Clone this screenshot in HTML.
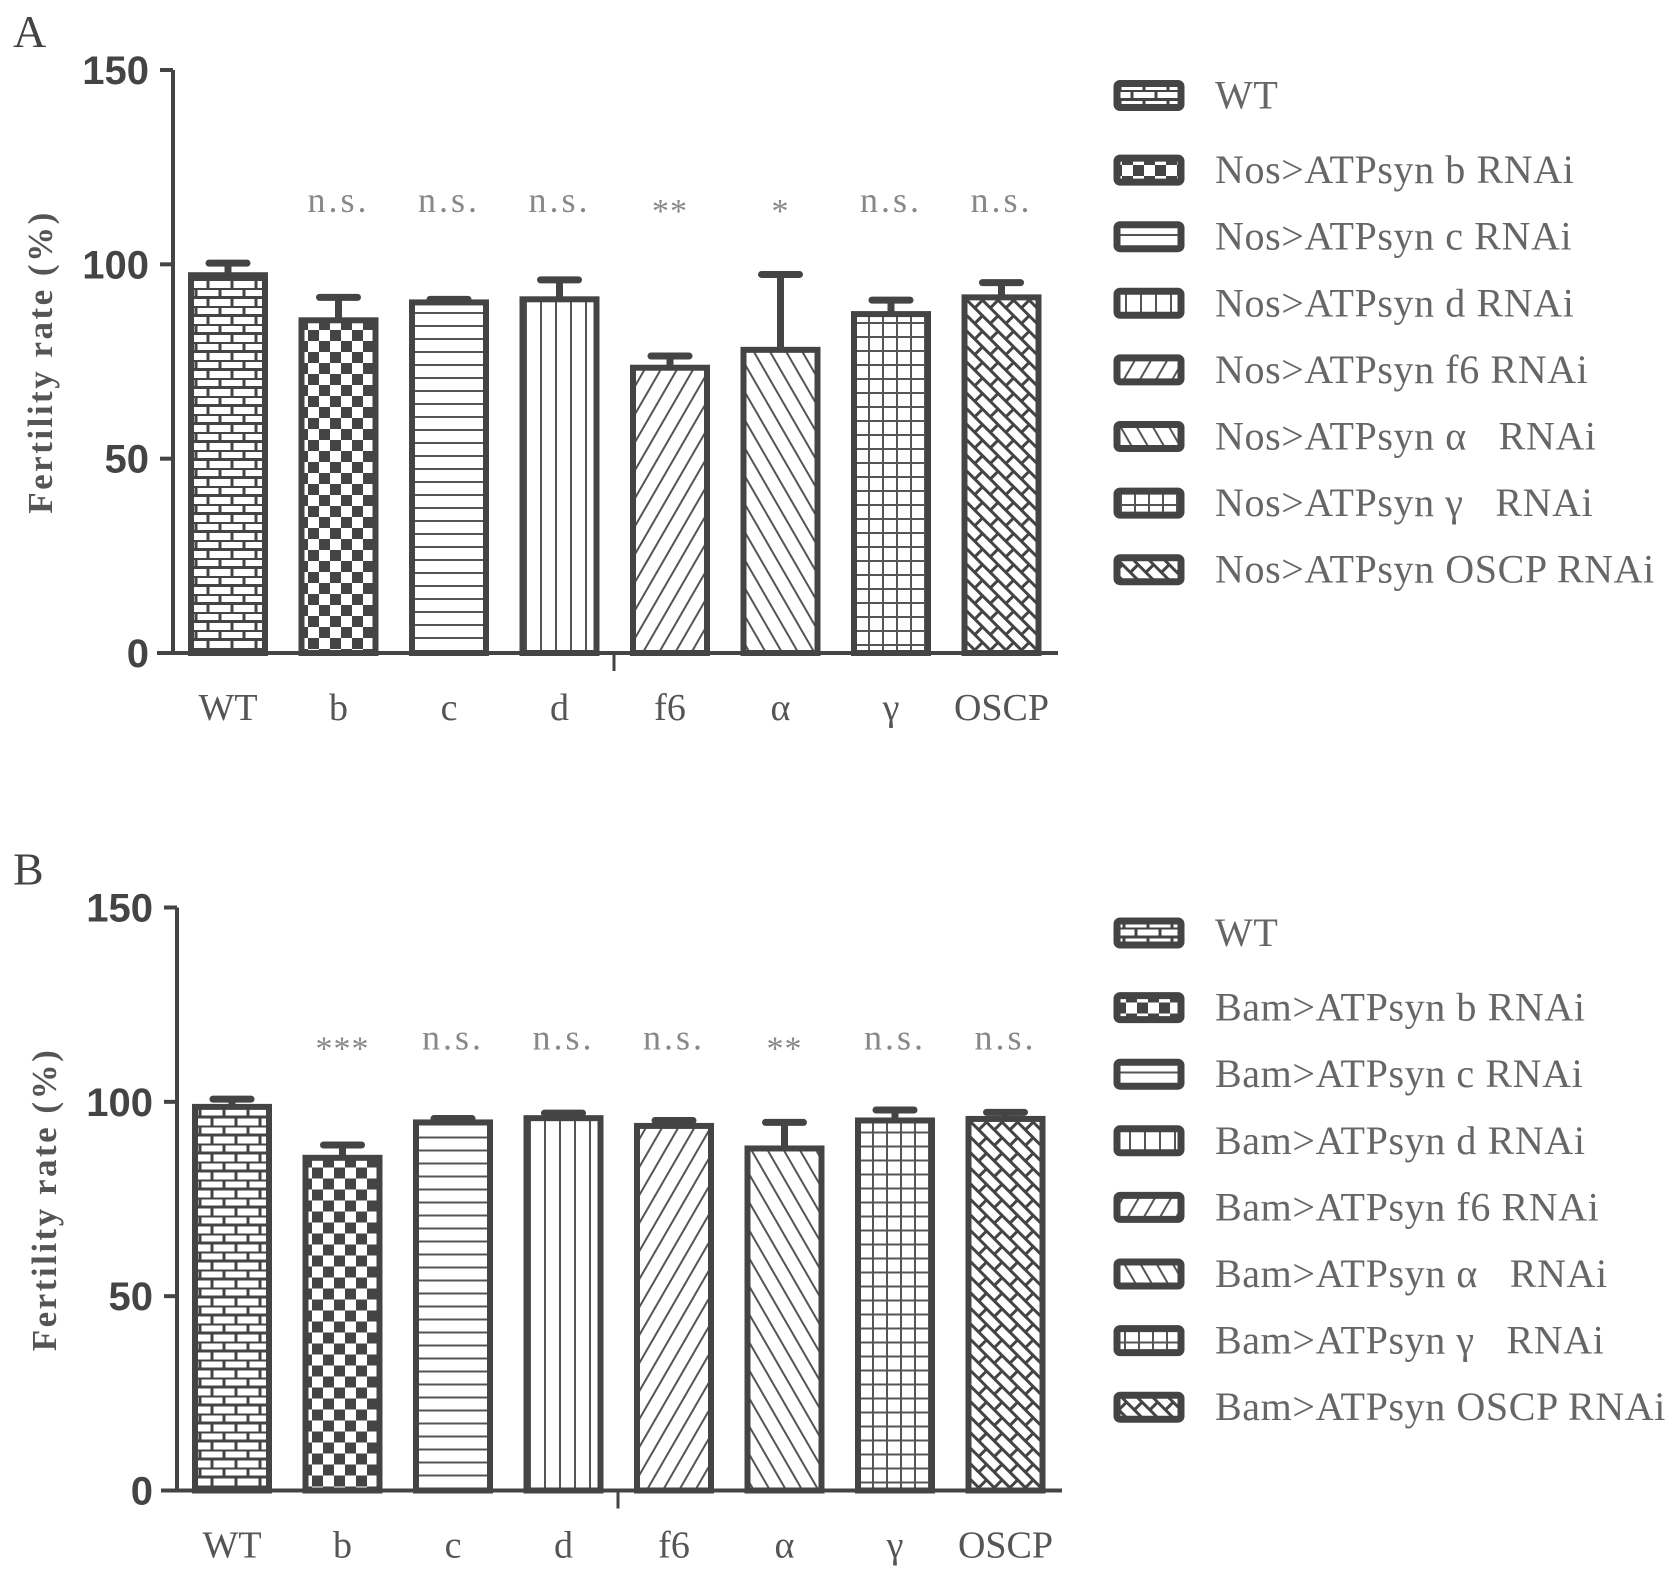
<!DOCTYPE html>
<html><head><meta charset="utf-8"><style>
html,body{margin:0;padding:0;background:#fff;}
svg{display:block;}
</style></head><body>
<svg id="chart" width="1677" height="1580" viewBox="0 0 1677 1580" xmlns="http://www.w3.org/2000/svg">
<defs>
<pattern id="p0" patternUnits="userSpaceOnUse" width="24" height="18"><rect width="24" height="18" fill="#fff"/><path d="M0 0.5H24M0 9.5H24M4 0V9M16 9V18" stroke="#444" stroke-width="3"/></pattern>
<pattern id="p1" patternUnits="userSpaceOnUse" width="22" height="22"><rect width="22" height="22" fill="#fff"/><rect x="0" y="0" width="11" height="11" fill="#444"/><rect x="11" y="11" width="11" height="11" fill="#444"/></pattern>
<pattern id="p2" patternUnits="userSpaceOnUse" width="10" height="13"><rect width="10" height="13" fill="#fff"/><path d="M0 1H10" stroke="#555" stroke-width="2"/></pattern>
<pattern id="p3" patternUnits="userSpaceOnUse" width="15" height="10"><rect width="15" height="10" fill="#fff"/><path d="M1 0V10" stroke="#555" stroke-width="2"/></pattern>
<pattern id="p4" patternUnits="userSpaceOnUse" width="14" height="14" patternTransform="rotate(30)"><rect width="14" height="14" fill="#fff"/><path d="M1 0V14" stroke="#555" stroke-width="2"/></pattern>
<pattern id="p5" patternUnits="userSpaceOnUse" width="14" height="14" patternTransform="rotate(-30)"><rect width="14" height="14" fill="#fff"/><path d="M1 0V14" stroke="#555" stroke-width="2"/></pattern>
<pattern id="p6" patternUnits="userSpaceOnUse" width="14" height="14"><rect width="14" height="14" fill="#fff"/><path d="M0 1H14M1 0V14" stroke="#555" stroke-width="2"/></pattern>
<pattern id="p7" patternUnits="userSpaceOnUse" width="22" height="22" patternTransform="rotate(45)"><rect width="22" height="22" fill="#fff"/><path d="M0 1.5H22M5 0V11M16 11V22M0 12.5H22" stroke="#444" stroke-width="3"/></pattern>
</defs>
<g id="root"></g>
</svg>
<script>
const categories = ["WT","b","c","d","f6","α","γ","OSCP"];
const valuesA = [97.2, 85.6, 90.2, 91.0, 73.4, 78.0, 87.2, 91.5];
const errorsA = [3.1, 5.9, 0.8, 5.0, 3.0, 19.4, 3.6, 3.8];
const signifA = ["", "n.s.", "n.s.", "n.s.", "**", "*", "n.s.", "n.s."];
const valuesB = [98.7, 85.6, 94.7, 95.8, 93.8, 88.0, 95.2, 95.6];
const errorsB = [2.0, 3.3, 1.0, 1.3, 1.4, 6.7, 2.7, 1.7];
const signifB = ["", "***", "n.s.", "n.s.", "n.s.", "**", "n.s.", "n.s."];
const yTicks = [0, 50, 100, 150];
const legendA = ["WT","Nos>ATPsyn b RNAi","Nos>ATPsyn c RNAi","Nos>ATPsyn d RNAi","Nos>ATPsyn f6 RNAi","Nos>ATPsyn α\u00A0\u00A0 RNAi","Nos>ATPsyn γ\u00A0\u00A0 RNAi","Nos>ATPsyn OSCP RNAi"];
const legendB = ["WT","Bam>ATPsyn b RNAi","Bam>ATPsyn c RNAi","Bam>ATPsyn d RNAi","Bam>ATPsyn f6 RNAi","Bam>ATPsyn α\u00A0\u00A0 RNAi","Bam>ATPsyn γ\u00A0\u00A0 RNAi","Bam>ATPsyn OSCP RNAi"];

const NS = "http://www.w3.org/2000/svg";
const root = document.getElementById('root');
function mk(tag, attrs, parent){ const e=document.createElementNS(NS,tag); for(const k in attrs) e.setAttribute(k,attrs[k]); (parent||root).appendChild(e); return e; }

function panel(letter, dy, dx, vals, errs, sig, legend){
  const g = mk('g', {transform:`translate(${dx},${dy})`});
  
  
  const y0 = 653, yPer = (653-70)/150;
  const yS = v => y0 - v*yPer;
  const x0 = 228, step = 110.5, bw = 74;
  const xS = i => x0 + i*step;
  const L = mk('text', {x:13-dx, y:47, 'font-family':'Liberation Serif, serif', 'font-size':46, fill:'#444'}, g);
  L.textContent = letter;
  
  
  const ya = mk('line', {x1:173, y1:yS(150), x2:173, y2:y0+2, stroke:'#444', 'stroke-width':4}, g);
  
  
  const xa = mk('line', {x1:157, y1:y0, x2:1058, y2:y0, stroke:'#444', 'stroke-width':4}, g);
  
  
  const mt = mk('line', {x1:614, y1:y0, x2:614, y2:y0+18, stroke:'#444', 'stroke-width':3}, g);
  
  
  yTicks.forEach(t=>{
    const tk = mk('line', {x1:160, y1:yS(t), x2:173, y2:yS(t), stroke:'#444', 'stroke-width':4}, g);
    
    
    const tl = mk('text', {x:149, y:yS(t)+14, 'text-anchor':'end', 'font-family':'Liberation Sans, sans-serif', 'font-weight':'bold', 'font-size':40, fill:'#444'}, g);
    tl.textContent = t;
    
    
  });
  const tt = mk('text', {x:0, y:0, transform:`translate(52,362) rotate(-90)`, 'text-anchor':'middle', 'font-family':'Liberation Serif, serif', 'font-weight':'bold', 'font-size':35, 'letter-spacing':2.5, fill:'#555'}, g);
  tt.textContent = 'Fertility rate (%)';
  
  
  vals.forEach((v,i)=>{
    const cx = xS(i), top = yS(v), et = yS(v+errs[i]);
    const el = mk('line', {x1:cx, y1:top, x2:cx, y2:et, stroke:'#444', 'stroke-width':7}, g);
    
    
    const ec = mk('line', {x1:cx-19, y1:et, x2:cx+19, y2:et, stroke:'#444', 'stroke-width':7, 'stroke-linecap':'round'}, g);
    
    
    const r = mk('rect', {x:cx-bw/2, y:top, width:bw, height:y0-top, fill:`url(#p${i})`, stroke:'#444', 'stroke-width':6}, g);
    
    
    const cl = mk('text', {x:cx, y:720, 'text-anchor':'middle', 'font-family':'Liberation Serif, serif', 'font-size':38, fill:'#555'}, g);
    cl.textContent = categories[i];
    
    
    if(sig[i]){
      const isStar = sig[i].indexOf('*')>=0;
      const s = mk('text', {x:cx, y:isStar?222:212, 'text-anchor':'middle', 'font-family':'Liberation Serif, serif', 'font-size':isStar?34:36, 'letter-spacing':isStar?1:3, fill:'#888'}, g);
      s.textContent = sig[i];
      
      
    }
  });
  legend.forEach((txt,i)=>{
    const cy = 95.5 + i*66.6 + (i>0?8:0);
    const bx = mk('rect', {x:1117-dx, y:cy-12, width:64, height:24, rx:3, fill:`url(#p${i})`, stroke:'#444', 'stroke-width':7}, g);
    
    
    const lt = mk('text', {x:1215-dx, y:cy+13, 'font-family':'Liberation Serif, serif', 'font-size':40, 'letter-spacing':0.6, fill:'#666'}, g);
    lt.textContent = txt;
    
    
  });
}
panel('A', 0, 0, valuesA, errorsA, signifA, legendA);
panel('B', 837.5, 4, valuesB, errorsB, signifB, legendB);
</script>
</body></html>
